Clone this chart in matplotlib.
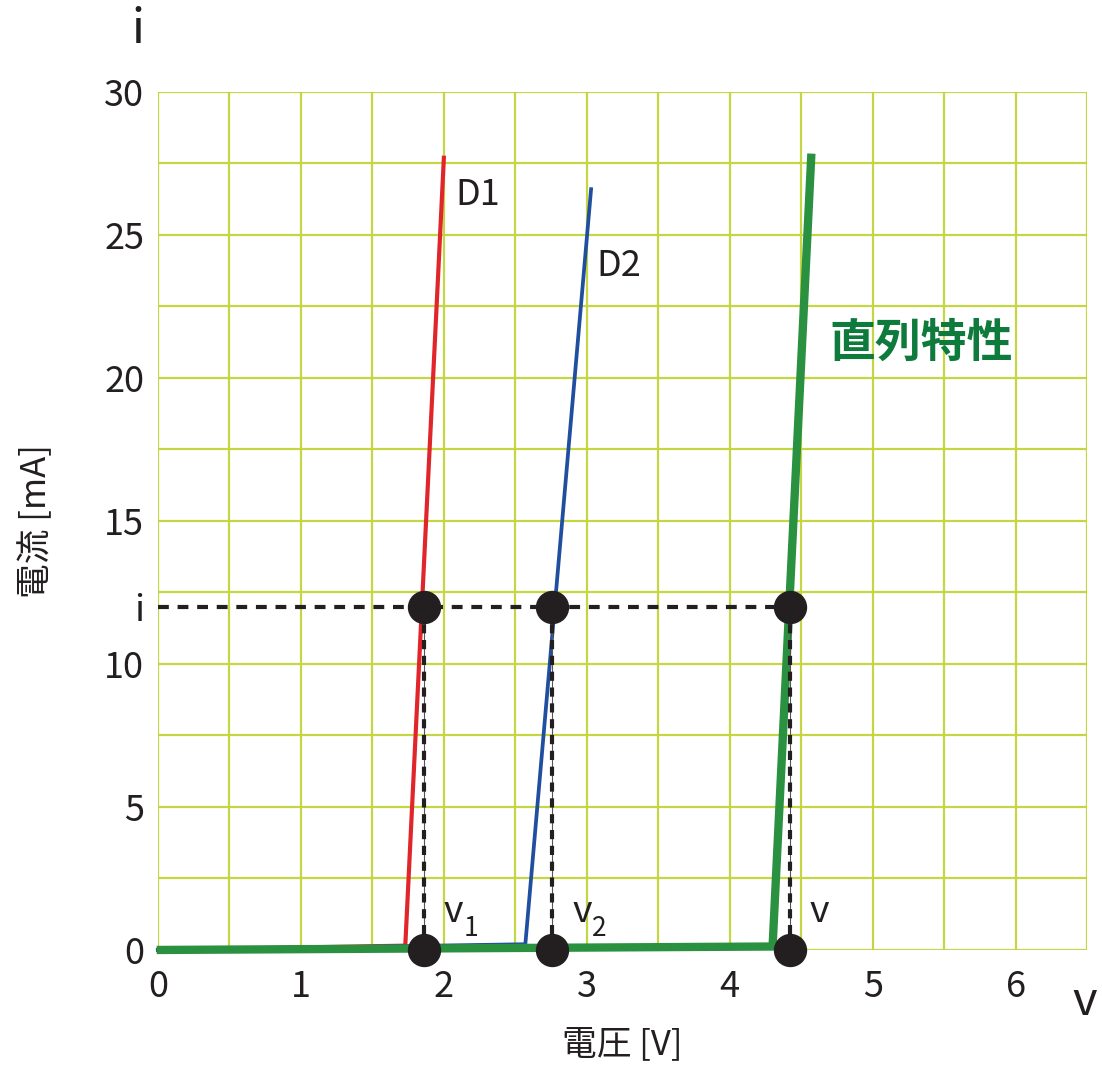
import numpy as np
import matplotlib
matplotlib.use("Agg")
import matplotlib.pyplot as plt
from matplotlib.ticker import MultipleLocator

plt.rcParams['font.family'] = ['Noto Sans CJK JP', 'DejaVu Sans']

# diode curves (V, mA)
d1_v = [0.0, 1.73, 2.00]
d1_i = [0.0, 0.15, 27.7]
d2_v = [0.0, 2.57, 3.03]
d2_i = [0.0, 0.20, 26.6]
series_v = [0.02, 4.30, 4.57]
series_i = [0.0, 0.12, 27.7]

# operating point
i_op = 12.0
v_points = [1.86, 2.76, 4.42]
v_names = ["1", "2", ""]

x_ticks = [0, 1, 2, 3, 4, 5, 6]
y_ticks = [0, 5, 10, 12, 15, 20, 25, 30]
y_labels = ["0", "5", "10", "i", "15", "20", "25", "30"]

GRID = "#c6d544"
RED = "#e0262b"
BLUE = "#1f4f9e"
GREEN = "#2a9140"
TXT_GREEN = "#0e7a3c"
DARK = "#231f20"

fig = plt.figure(figsize=(11.02, 10.67), dpi=100)
ax = fig.add_axes([0.1434, 0.1097, 0.843, 0.8041])
ax.set_xlim(0, 6.5)
ax.set_ylim(0, 30)
for s in ax.spines.values():
    s.set_visible(False)

ax.xaxis.set_minor_locator(MultipleLocator(0.5))
ax.yaxis.set_minor_locator(MultipleLocator(2.5))
ax.xaxis.remove_overlapping_locs = False
ax.yaxis.remove_overlapping_locs = False
ax.grid(which='minor', color=GRID, lw=1.6)
ax.grid(which='major', visible=False)
ax.set_axisbelow(True)

ax.set_xticks(x_ticks)
ax.set_xticklabels([str(t) for t in x_ticks])
ax.set_yticks(y_ticks)
ax.set_yticklabels(y_labels)
ax.tick_params(which='both', length=0)
ax.tick_params(axis='x', labelsize=26, pad=14, colors=DARK)
ax.tick_params(axis='y', labelsize=26, pad=10, colors=DARK)

ax.set_xlabel("電圧 [V]", fontsize=25, color=DARK, labelpad=16)
ax.set_ylabel("電流 [mA]", fontsize=25, color=DARK, labelpad=36)

# curves
ax.plot(d1_v, d1_i, color=RED, lw=3.0, clip_on=False, zorder=3)
ax.plot(d2_v, d2_i, color=BLUE, lw=2.7, clip_on=False, zorder=3)
ax.plot(series_v, series_i, color=GREEN, lw=6.0, clip_on=False, zorder=4)

# operating point construction
ax.plot([0, v_points[-1]], [i_op, i_op], color=DARK, lw=3.0,
        dashes=(2.6, 2.1), zorder=5)
for v in v_points:
    ax.plot([v, v], [0, i_op], color="#555555", lw=0.8, zorder=5)
    ax.plot([v, v], [0, i_op], color=DARK, lw=3.0, dashes=(2.2, 1.6), zorder=5)
    ax.plot([v, v], [i_op, 0], 'o', color=DARK, ms=23, clip_on=False, zorder=6)

for v, n in zip(v_points, v_names):
    ax.text(v + 0.14, 0.65, "v", fontsize=27, color=DARK, ha='left', va='bottom')
    if n:
        ax.annotate(n, (v + 0.14, 0.65), xytext=(14, -8), textcoords='offset points',
                    fontsize=19, color=DARK, ha='left', va='bottom')

ax.text(2.08, 26.4, "D1", fontsize=26, color=DARK, ha='left', va='center')
ax.text(3.07, 23.9, "D2", fontsize=26, color=DARK, ha='left', va='center')
ax.text(5.34, 21.2, "直列特性", fontsize=33, fontweight='bold', color=TXT_GREEN,
        ha='center', va='center')

# axis symbols
fig.text(138 / 1102, 1 - 30 / 1067, "i", fontsize=34, color=DARK, ha='center', va='center')
fig.text(1085 / 1102, 1 - 1002 / 1067, "v", fontsize=34, color=DARK, ha='center', va='center')

fig.savefig("out.png", dpi=100)
